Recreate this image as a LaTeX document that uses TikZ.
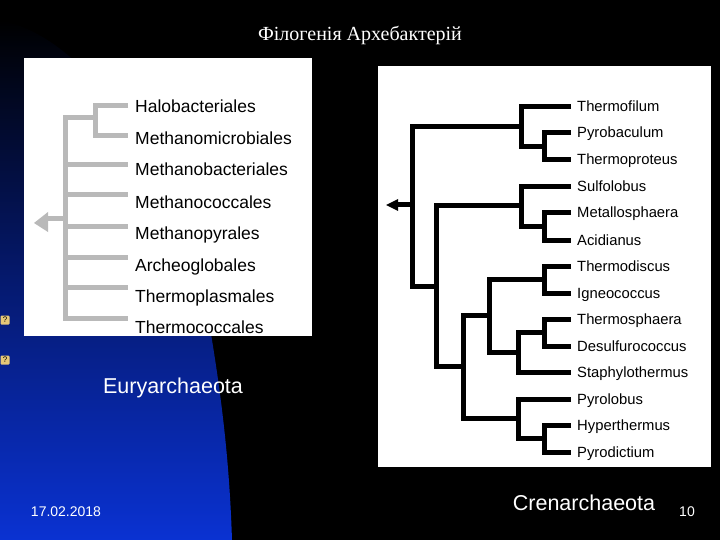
\documentclass[tikz,border=0pt]{standalone}
\usepackage{fontspec}
\setmainfont{Liberation Serif}
\newfontfamily\arial{Liberation Sans}
\begin{document}
\begin{tikzpicture}[x=1pt,y=-1pt,
  gl/.style={line width=5pt,draw=gray!55},
  bl/.style={line width=5pt,draw=black},
  lab/.style={anchor=base west,inner sep=0pt,font=\arial\fontsize{17.5}{20}\selectfont},
  rlab/.style={anchor=base west,inner sep=0pt,font=\arial\fontsize{14.8}{17}\selectfont},
  wt/.style={text=white,inner sep=0pt}]
\useasboundingbox (0,0) rectangle (720,540);
\fill[black] (0,0) rectangle (720,540);
\shade[top color=black,bottom color={rgb,255:red,10;green,50;blue,210},middle color={rgb,255:red,5;green,25;blue,110}]
  (0,20) .. controls (100,40) and (190,200) .. (212,340) .. controls (225,420) and (230,480) .. (232,540) -- (0,540) -- cycle;
% left panel
\fill[white] (24,58) rectangle (312,336);
\foreach \n/\t/\y in {h/Halobacteriales/108,mm/Methanomicrobiales/140,mb/Methanobacteriales/171,mc/Methanococcales/203,mp/Methanopyrales/235,ag/Archeoglobales/266,tp/Thermoplasmales/297,tc/Thermococcales/328}
  \node[lab] (\n) at (135,\y+5) {\t};
\draw[gl] (128,106) -- (95,106) -- (95,136) -- (128,136);
\draw[gl] (95,118) -- (65,118) -- (65,318) -- (128,318);
\foreach \y in {165,195,227,257,287} \draw[gl] (65,\y) -- (128,\y);
\draw[gl] (65,219) -- (48,219);
\fill[gray!55] (48,212) -- (34,223) -- (48,232) -- cycle;
% right panel
\fill[white] (378,66) rectangle (711,467);
\foreach \n/\t/\y in {a/Thermofilum/107,b/Pyrobaculum/133,c/Thermoproteus/160,d/Sulfolobus/187,e/Metallosphaera/213,f/Acidianus/240,g/Thermodiscus/266,h/Igneococcus/293,i/Thermosphaera/319,j/Desulfurococcus/346,k/Staphylothermus/372,l/Pyrolobus/399,m/Hyperthermus/425,n/Pyrodictium/452}
  \node[rlab] (\n) at (577,\y+5) {\t};
\def\pair#1#2#3{\draw[bl] (571,#2) -- (#1,#2) -- (#1,#3) -- (571,#3);}
\pair{544}{133}{160}
\pair{544}{213}{240}
\pair{544}{266}{293}
\pair{544}{319}{346}
\pair{544}{425}{452}
\draw[bl] (571,107) -- (521,107) -- (521,147) -- (544,147);
\draw[bl] (571,187) -- (521,187) -- (521,227) -- (544,227);
\draw[bl] (544,332) -- (518,332) -- (518,372) -- (571,372);
\draw[bl] (571,399) -- (518,399) -- (518,438) -- (544,438);
\draw[bl] (544,279) -- (489,279) -- (489,352) -- (518,352);
\draw[bl] (489,315) -- (463,315) -- (463,418) -- (518,418);
\draw[bl] (521,206) -- (436,206) -- (436,366) -- (463,366);
\draw[bl] (521,127) -- (412,127) -- (412,286) -- (436,286);
\draw[bl] (412,205) -- (396,205);
\fill[black] (398,199) -- (386,205) -- (398,211) -- cycle;
% texts
\node[wt,font=\fontsize{20}{22}\selectfont] (title) at (360,35) {Філогенія Архебактерій};
\node[wt,font=\arial\fontsize{21.5}{24}\selectfont] (eur) at (173,388) {Euryarchaeota};
\node[wt,font=\arial\fontsize{21.5}{24}\selectfont] (cren) at (584,503) {Crenarchaeota};
\node[wt,font=\arial\fontsize{14}{16}\selectfont] (date) at (66,512) {17.02.2018};
\node[wt,font=\arial\fontsize{14}{16}\selectfont] (pg) at (687,512) {10};
\foreach \n/\y in {q1/320,q2/360}
  \node[fill={rgb,255:red,230;green,200;blue,120},rounded corners=1pt,minimum size=9pt,inner sep=0pt,font=\arial\fontsize{8}{8}\selectfont] (\n) at (5,\y) {?};
\end{tikzpicture}
\end{document}
